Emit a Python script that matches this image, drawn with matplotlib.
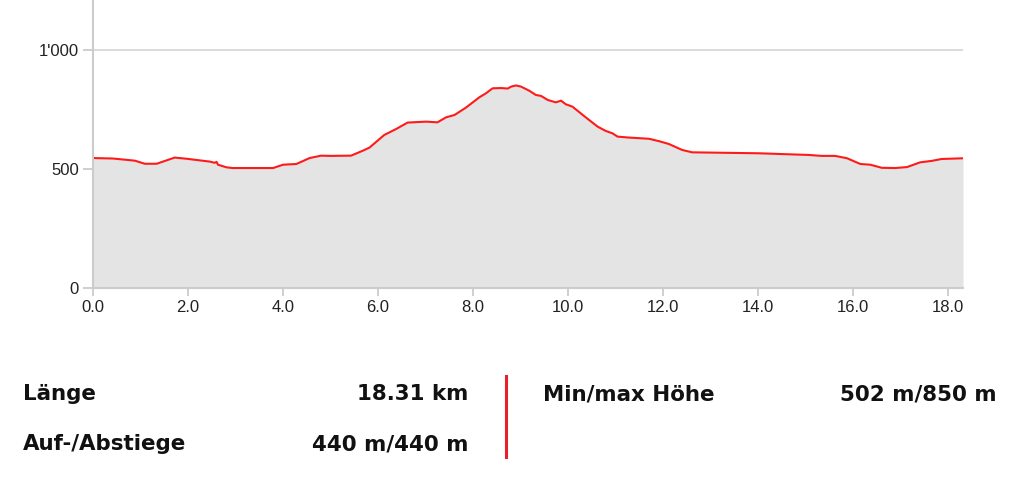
import matplotlib
matplotlib.use("Agg")
import matplotlib.pyplot as plt
from matplotlib.lines import Line2D

# Elevation profile data (distance in km, elevation in m)
distance_km = [0.00, 0.42, 0.88, 1.09, 1.34, 1.72, 1.97, 2.46, 2.56, 2.60, 2.63, 2.81, 2.94, 3.79, 4.00,
               4.28, 4.56, 4.80, 5.00, 5.43, 5.68, 5.82, 6.13, 6.38, 6.62, 7.01, 7.25, 7.43, 7.61,
               7.85, 8.13, 8.27, 8.41, 8.59, 8.73, 8.80, 8.90, 9.01, 9.18, 9.32, 9.43, 9.57, 9.74,
               9.85, 9.95, 10.09, 10.37, 10.62, 10.79, 10.93, 11.04, 11.28, 11.70, 11.91, 12.12,
               12.40, 12.61, 14.01, 15.06, 15.34, 15.62, 15.87, 16.15, 16.36, 16.60, 16.88, 17.13,
               17.41, 17.65, 17.86, 18.31]
elevation_m = [546, 544, 535, 522, 522, 548, 543, 531, 526, 530, 518, 507, 504, 504, 518,
               521, 546, 556, 555, 556, 577, 590, 643, 668, 695, 699, 696, 717, 727,
               758, 801, 818, 839, 840, 838, 846, 851, 846, 829, 811, 807, 790, 780,
               787, 772, 762, 717, 678, 660, 650, 636, 632, 627, 617, 605,
               580, 570, 566, 559, 555, 555, 545, 521, 518, 505, 504, 508,
               528, 534, 542, 545]

x_ticks = [0, 2, 4, 6, 8, 10, 12, 14, 16, 18]
x_tick_labels = ["0.0", "2.0", "4.0", "6.0", "8.0", "10.0", "12.0", "14.0", "16.0", "18.0"]
y_ticks = [0, 500, 1000]
y_tick_labels = ["0", "500", "1'000"]

stat_labels_left = ["Länge", "Auf-/Abstiege"]
stat_values_left = ["18.31 km", "440 m/440 m"]
stat_labels_right = ["Min/max Höhe"]
stat_values_right = ["502 m/850 m"]

W, H = 1024, 486
fig = plt.figure(figsize=(W / 100, H / 100), dpi=100)

ax = fig.add_axes([93 / W, 1 - 288 / H, (963 - 93) / W, 288 / H])
ax.set_xlim(0, 18.31)
ax.set_ylim(0, 1210)

ax.fill_between(distance_km, elevation_m, 0, color="#e4e4e4", lw=0, zorder=2)
ax.plot(distance_km, elevation_m, color="#ff1a1a", lw=1.5, zorder=3)

ax.set_yticks(y_ticks)
ax.set_yticklabels(y_tick_labels)
ax.set_xticks(x_ticks)
ax.set_xticklabels(x_tick_labels)
ax.grid(axis="y", color="#d4d4d4", lw=1.2, zorder=1)
ax.set_axisbelow(True)

for side in ["top", "right"]:
    ax.spines[side].set_visible(False)
for side in ["left", "bottom"]:
    ax.spines[side].set_color("#cccccc")
    ax.spines[side].set_linewidth(1.5)
    ax.spines[side].set_zorder(4)

ax.tick_params(axis="both", colors="#cccccc", width=1.3, labelcolor="#222222",
               labelsize=12)
ax.tick_params(axis="y", length=7, pad=3)
ax.tick_params(axis="x", length=6, pad=3)
for lab in ax.get_xticklabels() + ax.get_yticklabels():
    lab.set_family("Liberation Sans")

def fx(px):
    return px / W

def fy(py):
    return 1 - py / H

font = dict(family="DejaVu Sans", weight="bold", size=15.4, color="#111111")
rows_y = [400, 450]
for i, (lab, val) in enumerate(zip(stat_labels_left, stat_values_left)):
    fig.text(fx(23), fy(rows_y[i]), lab, ha="left", va="baseline", **font)
    fig.text(fx(468), fy(rows_y[i]), val, ha="right", va="baseline", **font)
for i, (lab, val) in enumerate(zip(stat_labels_right, stat_values_right)):
    fig.text(fx(543), fy(rows_y[i]), lab, ha="left", va="baseline", **font)
    fig.text(fx(997), fy(rows_y[i]), val, ha="right", va="baseline", **font)

fig.add_artist(Line2D([fx(505.5), fx(505.5)], [fy(376), fy(457)], color="#e8202a", lw=2.2))

fig.savefig("out.png", dpi=100)
